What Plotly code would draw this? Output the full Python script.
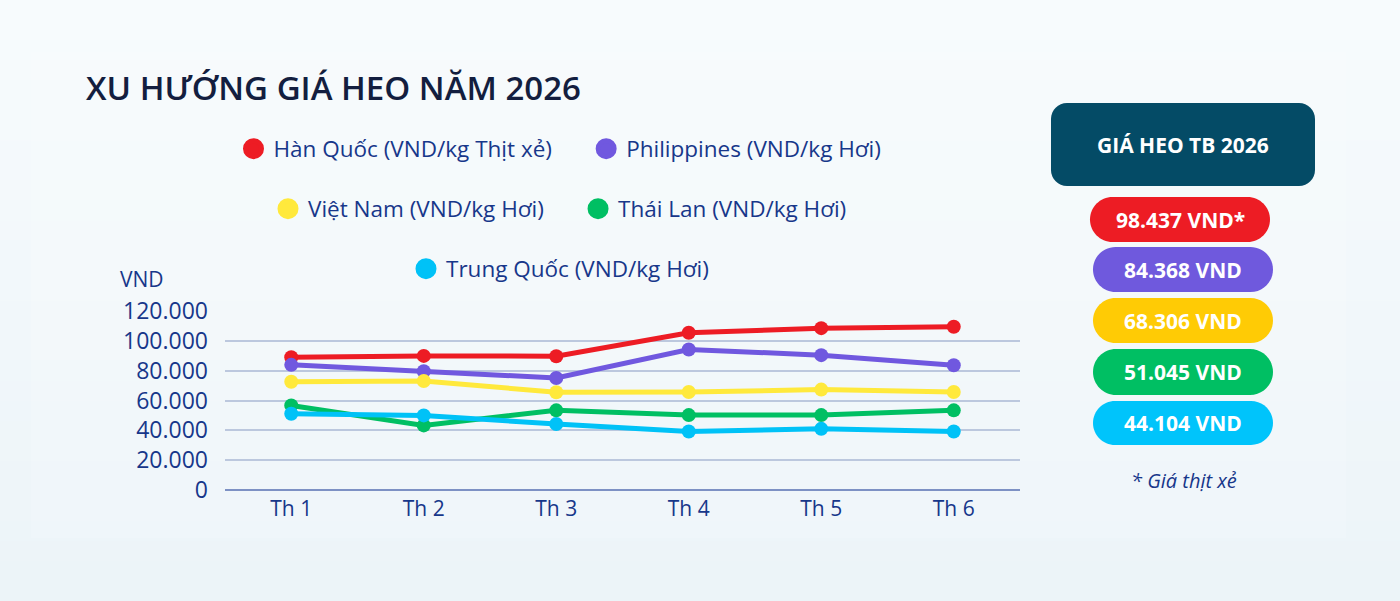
import plotly.graph_objects as go

# ---------------- data ----------------
months = ["Th 1", "Th 2", "Th 3", "Th 4", "Th 5", "Th 6"]
han_quoc = [89000, 89900, 89700, 105400, 108500, 109400]
philippines = [83900, 79600, 75100, 94200, 90400, 83600]
viet_nam = [72600, 73100, 65500, 65700, 67300, 65700]
thai_lan = [56700, 43300, 53400, 50200, 50200, 53400]
trung_quoc = [51100, 50000, 44200, 39200, 41000, 39200]

series_names = [
    "Hàn Quốc (VND/kg Thịt xẻ)",
    "Philippines (VND/kg Hơi)",
    "Việt Nam (VND/kg Hơi)",
    "Thái Lan (VND/kg Hơi)",
    "Trung Quốc (VND/kg Hơi)",
]
series_values = [han_quoc, philippines, viet_nam, thai_lan, trung_quoc]
line_colors = ["#ed1c24", "#7058df", "#ffe93c", "#00bf63", "#00c2f7"]
pill_colors = ["#ed1c24", "#6f59dd", "#ffcb05", "#00bf63", "#00c4fb"]
legend_groups = ["legend", "legend", "legend2", "legend2", "legend3"]
avg_labels = ["98.437 VND*", "84.368 VND", "68.306 VND", "51.045 VND", "44.104 VND"]
y_ticks = [0, 20000, 40000, 60000, 80000, 100000, 120000]

TITLE = "XU HƯỚNG GIÁ HEO NĂM 2026"
BOX_TITLE = "GIÁ HEO TB 2026"
NOTE = "* Giá thịt xẻ"

NAVY = "#17378a"
W, H = 1400, 601


def px(x):
    return x / W


def py(y):
    return 1 - y / H


def rrect(x0, y0, x1, y1, r):
    k = 0.5523 * r

    def P(x, y):
        return f"{px(x):.5f},{py(y):.5f}"

    d = f"M {P(x0 + r, y0)} L {P(x1 - r, y0)} "
    d += f"C {P(x1 - r + k, y0)} {P(x1, y0 + r - k)} {P(x1, y0 + r)} "
    d += f"L {P(x1, y1 - r)} "
    d += f"C {P(x1, y1 - r + k)} {P(x1 - r + k, y1)} {P(x1 - r, y1)} "
    d += f"L {P(x0 + r, y1)} "
    d += f"C {P(x0 + r - k, y1)} {P(x0, y1 - r + k)} {P(x0, y1 - r)} "
    d += f"L {P(x0, y0 + r)} "
    d += f"C {P(x0, y0 + r - k)} {P(x0 + r - k, y0)} {P(x0 + r, y0)} Z"
    return d


fig = go.Figure()

# chart lines
for name, vals, col in zip(series_names, series_values, line_colors):
    fig.add_trace(go.Scatter(
        x=months, y=vals, mode="lines+markers", name=name,
        line=dict(color=col, width=5),
        marker=dict(color=col, size=14),
        showlegend=False, hoverinfo="x+y+name",
    ))

# legend-only dot entries
pad = "\u00a0" * 5
for i, (name, col, lg) in enumerate(zip(series_names, line_colors, legend_groups)):
    label = name + pad if i in (0, 2) else name
    fig.add_trace(go.Scatter(
        x=[months[0]], y=[None], mode="markers", name=label,
        marker=dict(color=col, size=16, line=dict(color=col, width=5)),
        legend=lg, showlegend=True, hoverinfo="skip",
    ))

shapes = []
# soft vertical gradient background
n_bands = 30
top_c = (247, 251, 253)
bot_c = (236, 244, 248)
for i in range(n_bands):
    t = i / (n_bands - 1)
    c = tuple(round(top_c[j] + (bot_c[j] - top_c[j]) * t) for j in range(3))
    shapes.append(dict(type="rect", xref="paper", yref="paper",
                       x0=0, x1=1, y0=max(0, py((i + 1) * H / n_bands + 1)), y1=py(i * H / n_bands),
                       fillcolor=f"rgb{c}", line=dict(width=0), layer="below"))
# faint inner panel
shapes.append(dict(type="rect", xref="paper", yref="paper",
                   x0=px(31), x1=px(1346), y0=py(538), y1=py(52),
                   fillcolor="rgba(255,255,255,0.15)", line=dict(width=0), layer="below"))
# dark header box
shapes.append(dict(type="path", xref="paper", yref="paper",
                   path=rrect(1051, 103, 1315, 186, 16),
                   fillcolor="#044b66", line=dict(width=0), layer="above"))

annotations = [
    dict(text=TITLE, x=px(84), y=py(88), xref="paper", yref="paper",
         xanchor="left", yanchor="middle", showarrow=False,
         font=dict(family="Open Sans", size=33, color="#131e3f", weight=600)),
    dict(text="VND", x=px(142), y=py(279), xref="paper", yref="paper",
         xanchor="center", yanchor="middle", showarrow=False,
         font=dict(family="Open Sans", size=21, color=NAVY)),
    dict(text=BOX_TITLE, x=px(1183), y=py(145), xref="paper", yref="paper",
         xanchor="center", yanchor="middle", showarrow=False,
         font=dict(family="Open Sans", size=21, color="white", weight=700)),
    dict(text=f"<i>{NOTE}</i>", x=px(1184), y=py(480), xref="paper", yref="paper",
         xanchor="center", yanchor="middle", showarrow=False,
         font=dict(family="Open Sans", size=20, color=NAVY)),
]

pill_rows = [(1090, 1270, 197, 242), (1093, 1273, 247, 292), (1093, 1273, 298, 343),
             (1093, 1273, 349, 395), (1093, 1273, 401, 445)]
for (x0, x1, y0, y1), col, lab in zip(pill_rows, pill_colors, avg_labels):
    shapes.append(dict(type="path", xref="paper", yref="paper",
                       path=rrect(x0, y0, x1, y1, (y1 - y0) / 2),
                       fillcolor=col, line=dict(width=0), layer="above"))
    annotations.append(dict(text=lab, x=px((x0 + x1) / 2), y=py((y0 + y1) / 2),
                            xref="paper", yref="paper", xanchor="center", yanchor="middle",
                            showarrow=False,
                            font=dict(family="Open Sans", size=21, color="white", weight=700)))

legend_common = dict(orientation="h", xanchor="center", yanchor="middle",
                     bgcolor="rgba(0,0,0,0)", borderwidth=0,
                     font=dict(family="Open Sans", size=22.5, color=NAVY))

fig.update_layout(
    width=W, height=H,
    margin=dict(l=0, r=0, t=0, b=0, pad=0, autoexpand=False),
    paper_bgcolor="#f1f7fa",
    plot_bgcolor="rgba(0,0,0,0)",
    separators=",.",
    shapes=shapes,
    annotations=annotations,
    legend=dict(x=px(560), y=py(149), **legend_common),
    legend2=dict(x=px(560), y=py(209), **legend_common),
    legend3=dict(x=px(560), y=py(269), **legend_common),
    xaxis=dict(
        domain=[px(225), px(1020)], range=[-0.5, 5.5],
        showgrid=False, zeroline=False, showline=False, ticks="",
        tickfont=dict(family="Open Sans", size=21, color=NAVY),
        ticklabelstandoff=4, fixedrange=True, automargin=False,
    ),
    yaxis=dict(
        domain=[py(490), py(311)], range=[0, 120000],
        tickvals=y_ticks, tickformat=",.0f",
        showgrid=True, gridcolor="#bcc8de", gridwidth=2,
        zeroline=True, zerolinecolor="#7d91c4", zerolinewidth=2,
        showline=False, ticks="",
        tickfont=dict(family="Open Sans", size=23, color=NAVY),
        ticklabelstandoff=16, fixedrange=True, automargin=False,
    ),
)

fig.write_html(
    "out.html",
    config={"displayModeBar": False},
    post_script="document.body.style.margin='0';document.body.style.overflow='hidden';",
)
